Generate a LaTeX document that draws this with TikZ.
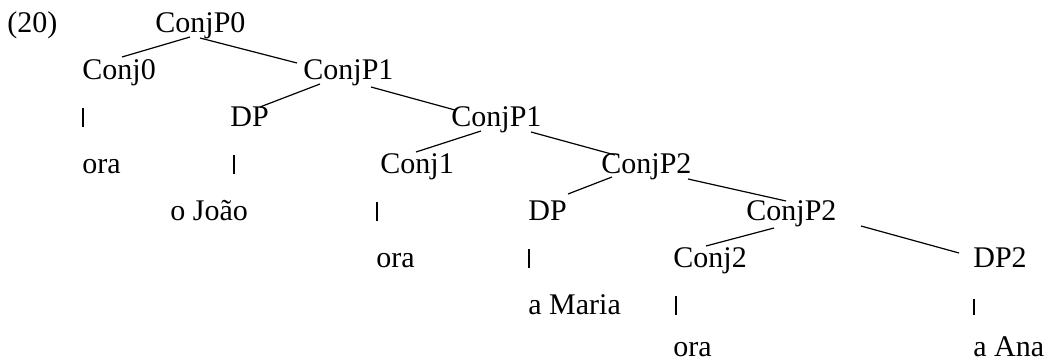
\documentclass[tikz,border=0pt]{standalone}
\usepackage{fontspec}
\setmainfont{Liberation Serif}
\begin{document}
\begin{tikzpicture}[x=0.5pt,y=-0.5pt,
  lbl/.style={anchor=base west,inner sep=0pt,font=\fontsize{15pt}{18pt}\selectfont},
  edge/.style={line width=0.6pt},
  bar/.style={line width=0.7pt}]
\useasboundingbox (0,0) rectangle (1046,363);
% row 0
\node[lbl] (ex) at (7,33) {(20)};
\node[lbl] (cp0) at (155,33) {ConjP0};
% row 1
\node[lbl] (c0) at (82,80) {Conj0};
\node[lbl] (cp1a) at (303,80) {ConjP1};
% row 2
\node[lbl] (dpa) at (230,127) {DP};
\node[lbl] (cp1b) at (451,127) {ConjP1};
% row 3
\node[lbl] (ora0) at (82,174) {ora};
\node[lbl] (c1) at (380,174) {Conj1};
\node[lbl] (cp2a) at (601,174) {ConjP2};
% row 4
\node[lbl] (joao) at (170,221) {o João};
\node[lbl] (dpb) at (528,221) {DP};
\node[lbl] (cp2b) at (746,221) {ConjP2};
% row 5
\node[lbl] (ora1) at (376,268) {ora};
\node[lbl] (c2) at (673,268) {Conj2};
\node[lbl] (dp2) at (973,268) {DP2};
% row 6
\node[lbl] (maria) at (528,315) {a Maria};
% row 7
\node[lbl] (ora2) at (673,357) {ora};
\node[lbl] (ana) at (973,357) {a Ana};
% branches
\draw[edge] ([shift={(35,4)}]cp0.base west) -- ([shift={(40,-23)}]c0.base west);
\draw[edge] ([shift={(45,5)}]cp0.base west) -- ([shift={(-6,-17)}]cp1a.base west);
\draw[edge] ([shift={(17,4)}]cp1a.base west) -- ([shift={(30,-20)}]dpa.base west);
\draw[edge] ([shift={(68,7)}]cp1a.base west) -- ([shift={(4,-17)}]cp1b.base west);
\draw[edge] ([shift={(30,4)}]cp1b.base west) -- ([shift={(36,-22)}]c1.base west);
\draw[edge] ([shift={(80,5)}]cp1b.base west) -- ([shift={(14,-19)}]cp2a.base west);
\draw[edge] ([shift={(11,3)}]cp2a.base west) -- ([shift={(40,-27)}]dpb.base west);
\draw[edge] ([shift={(87,5)}]cp2a.base west) -- ([shift={(40,-20)}]cp2b.base west);
\draw[edge] ([shift={(28,7)}]cp2b.base west) -- ([shift={(33,-22)}]c2.base west);
\draw[edge] ([shift={(115,5)}]cp2b.base west) -- ([shift={(-14,-15)}]dp2.base west);
% vertical bars
\coordinate (b0t) at (83,108);  \coordinate (b0b) at (83,127);
\coordinate (b1t) at (234,155); \coordinate (b1b) at (234,174);
\coordinate (b2t) at (377,202); \coordinate (b2b) at (377,221);
\coordinate (b3t) at (529,249); \coordinate (b3b) at (529,268);
\coordinate (b4t) at (676,296); \coordinate (b4b) at (676,315);
\coordinate (b5t) at (974,299); \coordinate (b5b) at (974,315);
\draw[bar] (b0t) -- (b0b);
\draw[bar] (b1t) -- (b1b);
\draw[bar] (b2t) -- (b2b);
\draw[bar] (b3t) -- (b3b);
\draw[bar] (b4t) -- (b4b);
\draw[bar] (b5t) -- (b5b);
\end{tikzpicture}
\end{document}
